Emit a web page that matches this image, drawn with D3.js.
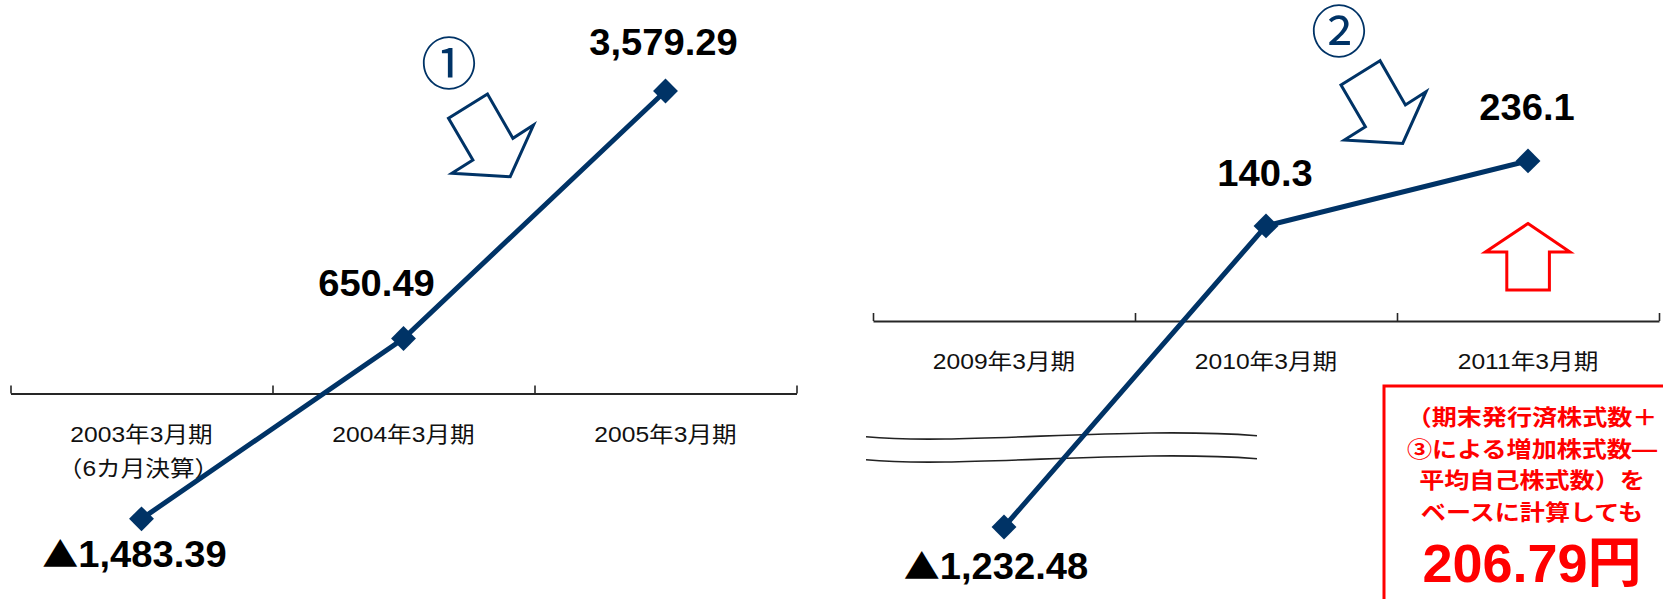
<!DOCTYPE html>
<html lang="ja">
<head>
<meta charset="utf-8">
<script src="https://cdn.jsdelivr.net/npm/d3@7"></script>
<style>
  body { margin: 0; background: #fff; }
  text { font-family: "Liberation Sans", Arial, "Noto Sans CJK JP", sans-serif; }
</style>
</head>
<body>
<div id="chart"></div>
<script>
// --- data ---
const leftCategories = ["2003年3月期", "2004年3月期", "2005年3月期"];
const leftSubLabels = ["（6カ月決算）", "", ""];
const leftValues = [-1483.39, 650.49, 3579.29];
const leftValueLabels = ["▲1,483.39", "650.49", "3,579.29"];

const rightCategories = ["2009年3月期", "2010年3月期", "2011年3月期"];
const rightSubLabels = ["", "", ""];
const rightValues = [-1232.48, 140.3, 236.1];
const rightValueLabels = ["▲1,232.48", "140.3", "236.1"];

const noteLines = ["（期末発行済株式数＋", "③による増加株式数—", "平均自己株式数）を", "ベースに計算しても"];
const noteValue = "206.79円";

// label nudges relative to each point (layout only)
const leftLabelOffsets = [[-7, 48], [-27, -43], [-2, -36]];
const rightLabelOffsets = [[-8, 52], [-1, -40], [-1, -41]];

const width = 1663, height = 599;
const navy = "#003366";
const red = "#ff0000";

const svg = d3.select("#chart").append("svg")
  .attr("width", width)
  .attr("height", height);

// Scales. The right panel has a broken axis, so its y scale is piecewise.
const xLeft = d3.scaleBand().domain(leftCategories).range([10.5, 796.5]);
const yLeft = d3.scaleLinear().domain([-2000, 4000]).range([562.5, 55.5]);
const xRight = d3.scaleBand().domain(rightCategories).range([873, 1659]);
const yRight = d3.scaleLinear().domain([-1300, -150, 0, 250]).range([533.5, 422.7, 321, 151.5]);

// text with the slight horizontal stretch of the original slide
function label(g, x, y, str, sx) {
  return g.append("text")
    .attr("transform", `translate(${x},${y}) scale(${sx},1)`)
    .attr("text-anchor", "middle")
    .text(str);
}

function drawPanel(x, y, cats, subs, values, valueLabels, offsets) {
  const g = svg.append("g");
  const cx = c => x(c) + x.bandwidth() / 2;

  // category axis with ticks on band edges, drawn at zero
  const edges = d3.scaleLinear().domain([0, cats.length]).range(x.range());
  g.append("g")
    .attr("transform", `translate(0,${y(0)})`)
    .call(d3.axisBottom(edges).ticks(cats.length).tickSizeInner(-8).tickSizeOuter(0).tickFormat(""))
    .call(a => a.select(".domain").attr("stroke", "#262626").attr("stroke-width", 2))
    .call(a => a.selectAll(".tick line").attr("stroke", "#262626").attr("stroke-width", 1.6));

  cats.forEach((c, i) => {
    label(g, cx(c), y(0) + 48, c, 1.12)
      .attr("font-size", 22).attr("fill", "#111");
    if (subs[i]) {
      label(g, cx(c) - 3, y(0) + 82, subs[i], 1.12)
        .attr("font-size", 22).attr("fill", "#111");
    }
  });

  const line = d3.line()
    .x((d, i) => cx(cats[i]))
    .y(d => y(d));

  g.append("path")
    .datum(values)
    .attr("fill", "none")
    .attr("stroke", navy)
    .attr("stroke-width", 5)
    .attr("d", line);

  g.selectAll(".marker")
    .data(values)
    .join("path")
    .attr("class", "marker")
    .attr("d", d3.symbol(d3.symbolSquare, 310))
    .attr("transform", (d, i) => `translate(${cx(cats[i])},${y(d)}) rotate(45)`)
    .attr("fill", navy);

  values.forEach((v, i) => {
    const t = g.append("text")
      .attr("transform", `translate(${cx(cats[i]) + offsets[i][0]},${y(v) + offsets[i][1]}) scale(1.06,1)`)
      .attr("text-anchor", "middle")
      .attr("font-size", 36).attr("font-weight", "bold").attr("fill", "#000");
    const s = valueLabels[i];
    if (s.startsWith("▲")) {
      // the triangle comes from the CJK font, as on the slide
      t.append("tspan").attr("font-family", "Noto Sans CJK JP").attr("font-size", 34).text("▲");
      t.append("tspan").text(s.slice(1));
    } else {
      t.text(s);
    }
  });
  return g;
}

drawPanel(xLeft, yLeft, leftCategories, leftSubLabels, leftValues, leftValueLabels, leftLabelOffsets);

// axis break marks on the right panel (drawn first so the line stays on top)
const breakG = svg.insert("g", ":first-child");
const bx0 = xRight.range()[0] - 7;
[yRight(-150) + 14, yRight(-150) + 37].forEach(yb => {
  breakG.append("path")
    .attr("d", `M${bx0},${yb} C${bx0 + 94},${yb + 9} ${bx0 + 264},${yb - 11} ${bx0 + 391},${yb - 1}`)
    .attr("fill", "none")
    .attr("stroke", "#222")
    .attr("stroke-width", 1.6);
});

drawPanel(xRight, yRight, rightCategories, rightSubLabels, rightValues, rightValueLabels, rightLabelOffsets);

// hollow callout arrows pointing down-right
const arrowShape = [[0, 0], [-39, 24.3], [-14.6, 66], [-35.6, 79.3], [22.7, 82.7], [46, 31], [25.4, 44.3]];
const arrowPath = d3.line().curve(d3.curveLinearClosed);

function callout(ax, ay, circled, tx, ty) {
  svg.append("path")
    .attr("d", arrowPath(arrowShape))
    .attr("transform", `translate(${ax},${ay})`)
    .attr("fill", "#fff")
    .attr("stroke", navy)
    .attr("stroke-width", 3)
    .attr("stroke-linejoin", "miter");
  svg.append("text")
    .attr("x", tx).attr("y", ty)
    .attr("text-anchor", "middle")
    .attr("font-family", "Noto Sans CJK JP")
    .attr("font-weight", "normal")
    .attr("font-size", 56)
    .attr("fill", navy)
    .text(circled);
}

callout(xLeft("2004年3月期") + xLeft.bandwidth() / 2 + 84, 94, "①", 449, 84);
callout(xRight("2011年3月期") + xRight.bandwidth() / 2 - 148, 60.7, "②", 1339, 52);

// red hollow up arrow under the 2011 point
const upX = xRight("2011年3月期") + xRight.bandwidth() / 2;
const upShape = [[0, 0], [42, 28.5], [21.4, 28.5], [21.4, 66.5], [-21.2, 66.5], [-21.2, 28.5], [-42.6, 28.5]];
svg.append("path")
  .attr("d", arrowPath(upShape))
  .attr("transform", `translate(${upX},223.5)`)
  .attr("fill", "#fff")
  .attr("stroke", red)
  .attr("stroke-width", 3);

// red note box, running off the right and bottom edges
svg.append("rect")
  .attr("x", 1384).attr("y", 386)
  .attr("width", 400).attr("height", 300)
  .attr("fill", "#fff")
  .attr("stroke", red)
  .attr("stroke-width", 3);

const noteG = svg.append("g").attr("fill", red).attr("font-weight", "bold");
noteLines.forEach((s, i) => {
  label(noteG, 1532, 425 + i * 31.5, s, 1.14)
    .attr("font-size", 22)
    .attr("font-family", "Noto Sans CJK JP");
});
label(noteG, 1532, 582, noteValue, 1.0)
  .attr("font-size", 54);
</script>
</body>
</html>
